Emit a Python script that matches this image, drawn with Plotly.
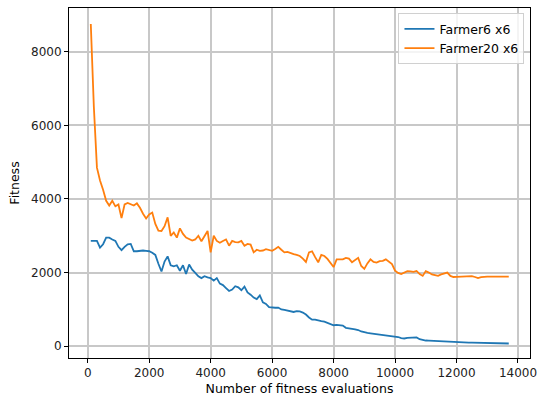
import plotly.graph_objects as go

evaluations = list(range(100, 13800, 100))

farmer6x6 = [
    2860, 2850, 2860, 2680, 2770, 2950, 2950, 2900, 2860, 2700,
    2610, 2700, 2770, 2780, 2580, 2580, 2600, 2600, 2590, 2580,
    2540, 2480, 2240, 2030, 2300, 2440, 2200, 2170, 2200, 2050,
    2200, 1960, 2220, 2080, 1990, 1900, 1850, 1900, 1870, 1850,
    1780, 1850, 1700, 1660, 1580, 1500, 1540, 1630, 1600, 1520,
    1620, 1460, 1400, 1320, 1280, 1380, 1190, 1150, 1060, 1045,
    1045, 1050, 1000, 985, 960, 935, 930, 950, 945, 915,
    860, 780, 720, 720, 690, 680, 670, 640, 600, 570,
    580, 570, 560, 500, 475, 470, 455, 440, 400, 370,
    360, 350, 340, 320, 318, 310, 300, 280, 275, 270,
    250, 220, 210, 225, 235, 245, 240, 190, 165, 155,
    150, 145, 140, 135, 130, 120, 112, 110, 110, 108,
    108, 105, 100, 98, 95, 92, 90, 85, 80, 78,
    75, 70, 68, 66, 68, 70, 74,
]

farmer20x6 = [
    8750, 6500, 4850, 4500, 4250, 3950, 3820, 3950, 3800, 3850,
    3480, 3850, 3890, 3850, 3820, 3880, 3760, 3600, 3470, 3580,
    3630, 3320, 3140, 3130, 3260, 3500, 3000, 3090, 2950, 3200,
    3050, 2950, 2910, 2870, 2900, 3000, 2850, 3000, 3130, 2550,
    3000, 2860, 2810, 2860, 2900, 2730, 2860, 2830, 2820, 2860,
    2730, 2780, 2760, 2550, 2620, 2590, 2600, 2635, 2610, 2590,
    2640, 2700, 2620, 2550, 2560, 2520, 2500, 2480, 2450, 2380,
    2290, 2550, 2580, 2420, 2280, 2480, 2450, 2370, 2250, 2150,
    2360, 2370, 2360, 2400, 2380, 2280, 2350, 2400, 2180, 2100,
    2250, 2360, 2290, 2270, 2310, 2320, 2360, 2300, 2230, 2050,
    1990, 1960, 2000, 2040, 2030, 2020, 2045, 1960, 1910, 2040,
    2000, 1950, 1930, 1910, 1950, 1980, 2000, 1910, 1880, 1885,
    1890, 1895, 1900, 1905, 1905, 1880, 1850, 1875, 1890, 1890,
    1890, 1890, 1890, 1890, 1890, 1890, 1890,
]

x_ticks = [0, 2000, 4000, 6000, 8000, 10000, 12000, 14000]
x_tick_labels = ["0", "2000", "4000", "6000", "8000", "10000", "12000", "14000"]
y_ticks = [0, 2000, 4000, 6000, 8000]
y_tick_labels = ["0", "2000", "4000", "6000", "8000"]

fig = go.Figure()
fig.add_trace(go.Scatter(x=evaluations, y=farmer6x6, mode="lines",
                         name="Farmer6 x6", line=dict(color="#1f77b4", width=1.8)))
fig.add_trace(go.Scatter(x=evaluations, y=farmer20x6, mode="lines",
                         name="Farmer20 x6", line=dict(color="#ff7f0e", width=1.8)))

axis_common = dict(
    showline=True, linecolor="black", linewidth=1, mirror=True,
    ticks="outside", ticklen=4, tickcolor="black", tickwidth=1,
    showgrid=True, gridcolor="#c8c8c8", gridwidth=1.5, zeroline=False,
    tickfont=dict(family="DejaVu Sans", size=12, color="#222222"),
    ticklabeloverflow="allow",
)

fig.update_layout(
    width=543, height=399,
    margin=dict(l=69, r=6, t=8, b=41),
    paper_bgcolor="white", plot_bgcolor="white",
    font=dict(family="DejaVu Sans", size=12, color="black"),
    xaxis=dict(range=[-609, 14391], tickvals=x_ticks, ticktext=x_tick_labels,
               title=dict(text="Number of fitness evaluations", standoff=4,
                          font=dict(family="DejaVu Sans", size=12.5)),
               **axis_common),
    yaxis=dict(range=[-320, 9187], tickvals=y_ticks, ticktext=y_tick_labels,
               title=dict(text="Fitness", standoff=8,
                          font=dict(family="DejaVu Sans", size=12.5)),
               **axis_common),
    legend=dict(x=0.988, y=0.985, xanchor="right", yanchor="top",
                bgcolor="rgba(255,255,255,0.8)", bordercolor="#d0d0d0", borderwidth=1,
                font=dict(family="DejaVu Sans", size=12.5), tracegroupgap=2,
                itemwidth=30),
    showlegend=True,
)

fig.write_html("out.html")
